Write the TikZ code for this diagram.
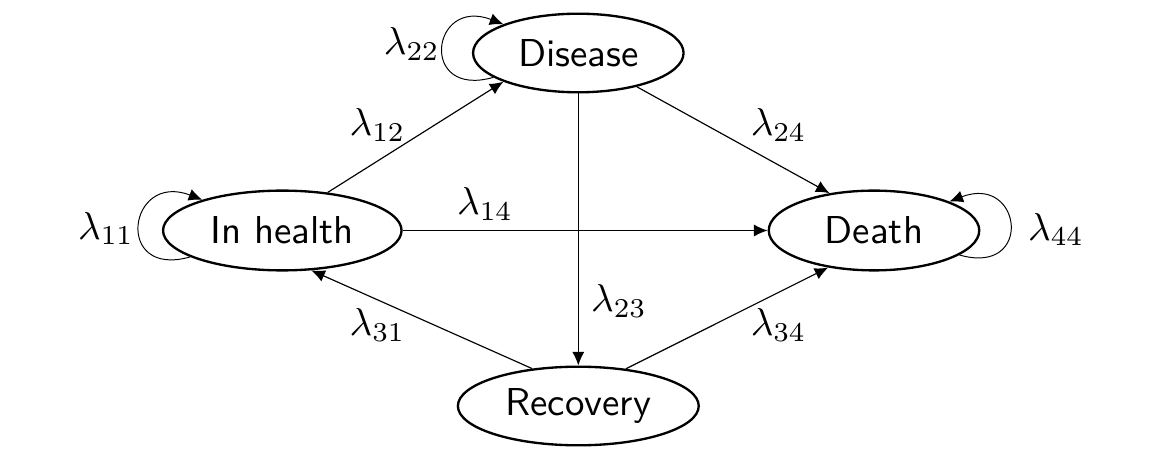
\documentclass[tikz,border=0pt]{standalone}
\usetikzlibrary{arrows.meta,shapes.geometric}
\newcommand\statefont{\fontsize{10pt}{12pt}\selectfont\sffamily}
\begin{document}
\begin{tikzpicture}[x=0.257pt,y=0.257pt,
  state/.style={draw, ellipse, line width=0.6pt, inner sep=0pt, font=\statefont},
  trans/.style={line width=0.3pt, -{Latex[length=3.5pt,width=3.1pt]}},
  selfloop/.style={line width=0.25pt, -{Latex[length=3.5pt,width=3.1pt]}},
  lab/.style={inner sep=0pt}]
\useasboundingbox (0,0) rectangle (1157,-452);
\node[state, minimum width=61.3pt, minimum height=20.5pt] (ih) at (282.3,-230.5) {In health};
\node[state, minimum width=54.1pt, minimum height=20.2pt] (dis) at (578.3,-53) {Disease};
\node[state, minimum width=54.1pt, minimum height=20.5pt] (death) at (874,-230.5) {Death};
\node[state, minimum width=61.9pt, minimum height=20.2pt] (rec) at (578.3,-406) {Recovery};
\draw[trans] (ih.40) -- (dis.201);
\draw[trans] (dis.-30) -- (death.140);
\draw[trans] (ih) -- (death);
\draw[trans] (dis) -- (rec);
\draw[trans] (rec.141) -- (ih.-54);
\draw[trans] (rec.38) -- (death.219);
\draw[selfloop] (ih.196) to[out=196,in=159,distance=20.5pt] (ih.159);
\draw[selfloop] (dis.196) to[out=196,in=159,distance=20pt] (dis.159);
\draw[selfloop] (death.-16) to[out=-16,in=21,distance=20pt] (death.21);
\node[lab] (l11) at (106,-228.5) {$\lambda_{11}$};
\node[lab] (l22) at (411.7,-44) {$\lambda_{22}$};
\node[lab] (l12) at (377.4,-124.7) {$\lambda_{12}$};
\node[lab] (l24) at (778.6,-124.7) {$\lambda_{24}$};
\node[lab] (l14) at (485,-204) {$\lambda_{14}$};
\node[lab] (l23) at (619,-300.8) {$\lambda_{23}$};
\node[lab] (l31) at (377.4,-325.3) {$\lambda_{31}$};
\node[lab] (l34) at (778.6,-325.3) {$\lambda_{34}$};
\node[lab] (l44) at (1056,-229.5) {$\lambda_{44}$};
\end{tikzpicture}
\end{document}
